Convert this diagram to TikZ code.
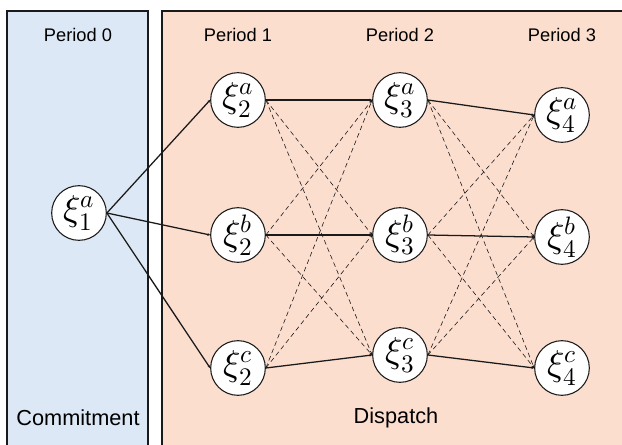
\documentclass[tikz,border=0pt]{standalone}
\usepackage{fontspec}
\setmainfont{Liberation Sans}
\usepackage{unicode-math}
\setmathfont{Latin Modern Math}
\usepackage{tikz}
\usetikzlibrary{positioning,arrows.meta}
\definecolor{commitfill}{HTML}{DCE8F5}
\definecolor{dispfill}{HTML}{FCDECF}
\definecolor{edgegray}{HTML}{1A1A1A}
\tikzset{
  stage/.style={draw=edgegray,line width=1pt},
  scen/.style={draw=edgegray,circle,line width=0.8pt,fill=white,minimum size=41pt,
              inner sep=0pt,font=\fontsize{27}{29}\selectfont},
  plabel/.style={font=\fontsize{13.7}{16}\selectfont},
  slabel/.style={font=\fontsize{16.3}{19}\selectfont},
  link/.style={-{Stealth[length=2pt,width=2pt]},line width=0.95pt,edgegray},
  crosslink/.style={link,line width=0.45pt,dash pattern=on 3.5pt off 2.5pt},
}
\begin{document}
\begin{tikzpicture}[x=0.75pt,y=-0.75pt]
  \useasboundingbox (0,0) rectangle (622,445);
  % stage boxes
  \draw[stage,fill=commitfill] (7,11) rectangle (148,460);
  \draw[stage,fill=dispfill] (162,11) rectangle (640,460);
  % period headings
  \node[plabel] (p0) at (78,35)  {Period 0};
  \node[plabel] (p1) at (238,35) {Period 1};
  \node[plabel] (p2) at (400,35) {Period 2};
  \node[plabel] (p3) at (562,35) {Period 3};
  \node[slabel] (commit) at (78,418)  {Commitment};
  \node[slabel] (disp)   at (396,418) {Dispatch};
  % scenario nodes
  \node[scen] (x1a) at (79,213)  {$\xi_1^a$};
  \node[scen] (x2a) at (238,100) {$\xi_2^a$};
  \node[scen] (x2b) at (238,235) {$\xi_2^b$};
  \node[scen] (x2c) at (238,368) {$\xi_2^c$};
  \node[scen] (x3a) at (400,100) {$\xi_3^a$};
  \node[scen] (x3b) at (400,235) {$\xi_3^b$};
  \node[scen] (x3c) at (400,355) {$\xi_3^c$};
  \node[scen] (x4a) at (562,115) {$\xi_4^a$};
  \node[scen] (x4b) at (562,237) {$\xi_4^b$};
  \node[scen] (x4c) at (562,368) {$\xi_4^c$};
  % commitment to period 1
  \draw[link] (x1a.east) -- (x2a.west);
  \draw[link] (x1a.east) -- (x2b.west);
  \draw[link] (x1a.east) -- (x2c.west);
  % same-scenario links
  \draw[link] (x2a.east) -- (x3a.west);
  \draw[link] (x2b.east) -- (x3b.west);
  \draw[link] (x2c.east) -- (x3c.west);
  \draw[link] (x3a.east) -- (x4a.west);
  \draw[link] (x3b.east) -- (x4b.west);
  \draw[link] (x3c.east) -- (x4c.west);
  % cross links period 1 -> 2
  \draw[crosslink] (x2a.east) -- (x3b.west);
  \draw[crosslink] (x2a.east) -- (x3c.west);
  \draw[crosslink] (x2b.east) -- (x3a.west);
  \draw[crosslink] (x2b.east) -- (x3c.west);
  \draw[crosslink] (x2c.east) -- (x3a.west);
  \draw[crosslink] (x2c.east) -- (x3b.west);
  % cross links period 2 -> 3
  \draw[crosslink] (x3a.east) -- (x4b.west);
  \draw[crosslink] (x3a.east) -- (x4c.west);
  \draw[crosslink] (x3b.east) -- (x4a.west);
  \draw[crosslink] (x3b.east) -- (x4c.west);
  \draw[crosslink] (x3c.east) -- (x4a.west);
  \draw[crosslink] (x3c.east) -- (x4b.west);
\end{tikzpicture}
\end{document}
